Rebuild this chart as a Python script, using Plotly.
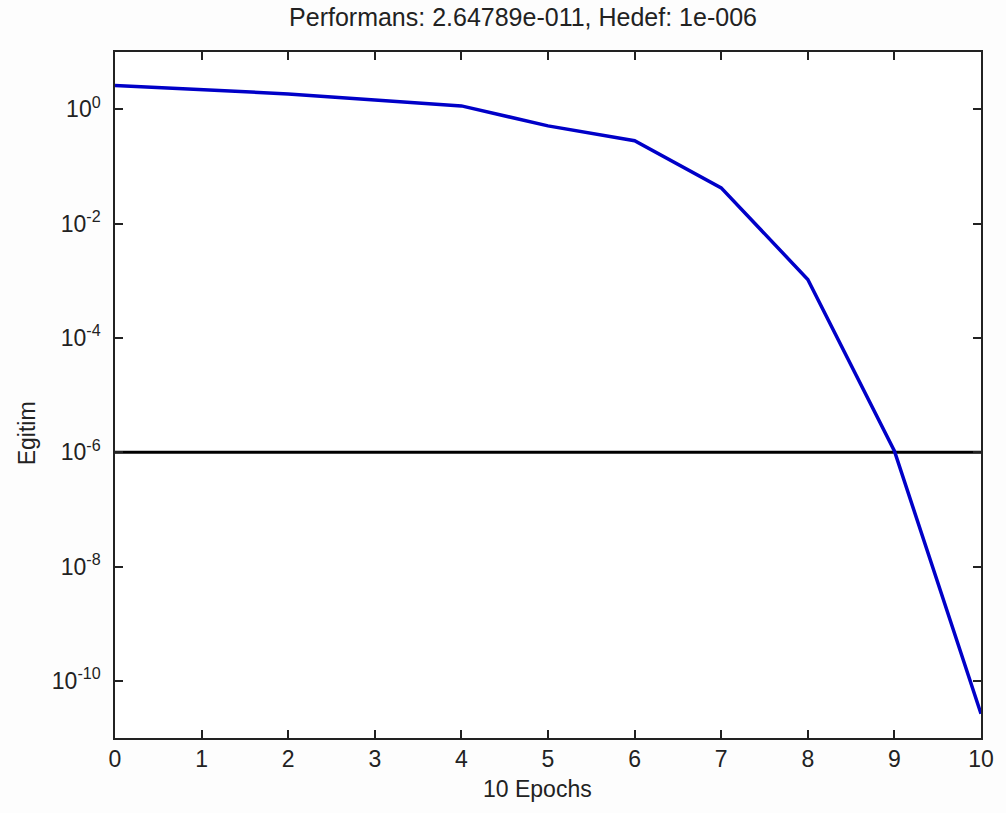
import plotly.graph_objects as go

# Training performance per epoch
epochs = [0, 1, 2, 3, 4, 5, 6, 7, 8, 9, 10]
performance = [2.6, 2.2, 1.85, 1.45, 1.14, 0.51, 0.28, 0.042, 0.00105, 1.05e-6, 2.64789e-11]

# Goal value
goal = 1e-6

# Axis ticks
x_ticks = [0, 1, 2, 3, 4, 5, 6, 7, 8, 9, 10]
y_tick_vals = [1e-10, 1e-8, 1e-6, 1e-4, 1e-2, 1e0]
y_tick_text = ["10<sup>-10</sup>", "10<sup>-8</sup>", "10<sup>-6</sup>",
               "10<sup>-4</sup>", "10<sup>-2</sup>", "10<sup>0</sup>"]

title_text = "Performans: 2.64789e-011, Hedef: 1e-006"
x_label = "10 Epochs"
y_label = "Egitim"

font_family = "Liberation Sans, Arial, sans-serif"
text_color = "#222222"

fig = go.Figure()

fig.add_trace(go.Scatter(
    x=[epochs[0], epochs[-1]], y=[goal, goal],
    mode="lines", line=dict(color="black", width=3),
    showlegend=False, hoverinfo="skip",
))

fig.add_trace(go.Scatter(
    x=epochs, y=performance,
    mode="lines", line=dict(color="#0000C8", width=3.5),
    showlegend=False,
))

axis_common = dict(
    showline=True, linecolor=text_color, linewidth=1.5, mirror="ticks",
    ticks="inside", ticklen=8, tickwidth=1.5, tickcolor=text_color,
    showgrid=False, zeroline=False,
    tickfont=dict(family=font_family, size=23, color=text_color),
)

fig.update_xaxes(
    range=[0, 10], tickvals=x_ticks, ticktext=[str(v) for v in x_ticks],
    **axis_common,
)
fig.update_yaxes(
    type="log", range=[-11, 1], tickvals=y_tick_vals, ticktext=y_tick_text,
    ticklabelstandoff=8,
    **axis_common,
)

# Axis titles placed in pixel coordinates of the page
fig.add_annotation(
    text=x_label, xref="paper", yref="paper",
    x=(539 - 115) / (1006 - 115 - 22), y=-(789 - 738) / (738 - 52),
    xanchor="center", yanchor="middle", showarrow=False,
    font=dict(family=font_family, size=23, color=text_color),
)
fig.add_annotation(
    text=y_label, xref="paper", yref="paper",
    x=-(115 - 27) / (1006 - 115 - 22), y=(738 - 433) / (738 - 52),
    xanchor="center", yanchor="middle", textangle=-90, showarrow=False,
    font=dict(family=font_family, size=23, color=text_color),
)

fig.update_layout(
    width=1006, height=813,
    margin=dict(l=115, r=22, t=52, b=75),
    paper_bgcolor="#FDFDFD", plot_bgcolor="#FFFFFF",
    title=dict(text=title_text, x=523 / 1006, xanchor="center", y=0.979, yanchor="middle",
               font=dict(family=font_family, size=25, color=text_color)),
)

fig.write_html("out.html")
